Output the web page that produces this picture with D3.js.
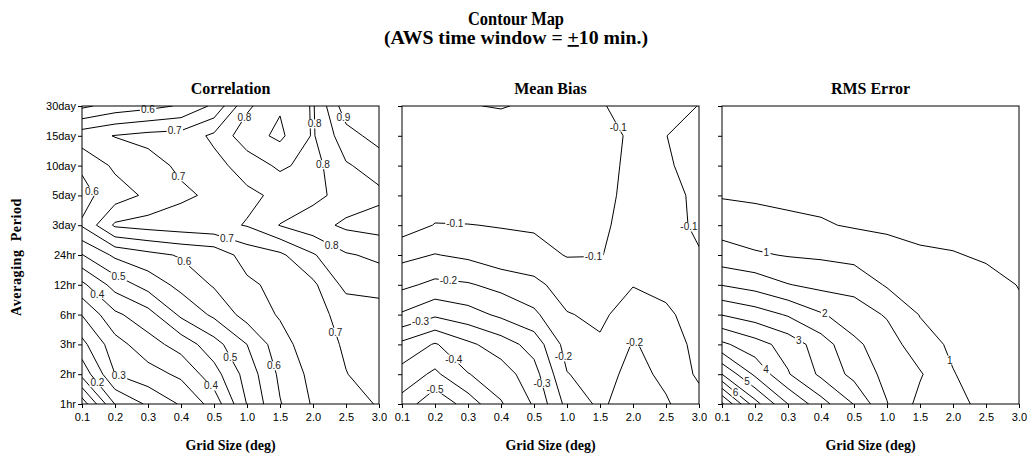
<!DOCTYPE html>
<html>
<head>
<meta charset="utf-8">
<script src="https://cdn.jsdelivr.net/npm/d3@7"></script>
<style>
  body { margin: 0; background: #fff; }
  svg text { font-family: "Liberation Sans", Arial, sans-serif; }
  .serif { font-family: "Liberation Serif", "Times New Roman", serif; font-weight: bold; }
</style>
</head>
<body>
<svg id="chart" width="1030" height="457"></svg>
<script>
// Grid sizes (x) and averaging periods (y, bottom to top)
const gridSizes = ["0.1", "0.2", "0.3", "0.4", "0.5", "1.0", "1.5", "2.0", "2.5", "3.0"];
const periods = ["1hr", "2hr", "3hr", "6hr", "12hr", "24hr", "3day", "5day", "10day", "15day", "30day"];

// Correlation, one row per averaging period (1hr first), one value per grid size
const correlation = [
  [0.02, 0.202, 0.258, 0.305, 0.37, 0.502, 0.597, 0.655, 0.685, 0.703],
  [0.165, 0.30, 0.33, 0.36, 0.43, 0.52, 0.61, 0.665, 0.699, 0.715],
  [0.235, 0.33, 0.38, 0.42, 0.48, 0.55, 0.63, 0.68, 0.705, 0.72],
  [0.302, 0.39, 0.43, 0.51, 0.56, 0.62, 0.655, 0.685, 0.715, 0.722],
  [0.388, 0.47, 0.52, 0.565, 0.605, 0.64, 0.665, 0.69, 0.765, 0.773],
  [0.498, 0.56, 0.585, 0.605, 0.618, 0.671, 0.69, 0.745, 0.795, 0.81],
  [0.605, 0.708, 0.72, 0.728, 0.735, 0.753, 0.802, 0.83, 0.86, 0.87],
  [0.585, 0.625, 0.66, 0.69, 0.71, 0.74, 0.76, 0.785, 0.82, 0.84],
  [0.607, 0.66, 0.68, 0.71, 0.735, 0.77, 0.81, 0.78, 0.845, 0.87],
  [0.68, 0.702, 0.715, 0.72, 0.76, 0.83, 0.86, 0.795, 0.88, 0.92],
  [0.54, 0.57, 0.585, 0.605, 0.66, 0.79, 0.845, 0.795, 0.93, 0.945]
];

// Mean bias
const meanBias = [
  [-0.468, -0.54, -0.478, -0.404, -0.345, -0.235, -0.19, -0.23, -0.205, -0.17],
  [-0.42, -0.46, -0.402, -0.375, -0.32, -0.202, -0.18, -0.215, -0.19, -0.141],
  [-0.362, -0.4045, -0.36, -0.325, -0.28, -0.18, -0.157, -0.203, -0.185, -0.13],
  [-0.256, -0.291, -0.27, -0.24, -0.21, -0.153, -0.14, -0.175, -0.16, -0.125],
  [-0.1885, -0.212, -0.205, -0.185, -0.1645, -0.125, -0.12, -0.148, -0.135, -0.115],
  [-0.136, -0.152, -0.14, -0.118, -0.114, -0.098, -0.099, -0.109, -0.115, -0.102],
  [-0.076, -0.102, -0.101, -0.098, -0.095, -0.085, -0.095, -0.11, -0.11, -0.095],
  [-0.08, -0.075, -0.075, -0.085, -0.08, -0.08, -0.085, -0.115, -0.112, -0.092],
  [-0.085, -0.08, -0.08, -0.085, -0.08, -0.08, -0.085, -0.11, -0.105, -0.085],
  [-0.085, -0.085, -0.09, -0.095, -0.085, -0.085, -0.093, -0.103, -0.1005, -0.085],
  [-0.08, -0.07, -0.054, -0.045, -0.0635, -0.075, -0.095, -0.12, -0.115, -0.099]
];

// RMS error
const rmsError = [
  [7.6, 5.7, 4.5, 3.7, 2.98, 2.02, 1.35, 1.11, 0.9, 0.8],
  [5.5, 4.4, 3.54, 2.9, 2.35, 1.85, 1.55, 1.02, 0.8, 0.65],
  [4.1, 3.7, 3.3, 2.75, 2.1, 1.75, 1.2, 0.92, 0.72, 0.6],
  [2.98, 2.75, 2.45, 2.05, 1.75, 1.45, 0.98, 0.85, 0.68, 0.55],
  [1.98, 1.8, 1.52, 1.37, 1.33, 0.95, 0.8, 0.72, 0.6, 0.49],
  [1.18, 1.06, 0.97, 0.93, 0.84, 0.68, 0.55, 0.52, 0.46, 0.42],
  [0.82, 0.69, 0.59, 0.54, 0.46, 0.42, 0.4, 0.38, 0.36, 0.34],
  [0.46, 0.43, 0.41, 0.39, 0.37, 0.35, 0.33, 0.31, 0.3, 0.29],
  [0.4, 0.38, 0.36, 0.34, 0.32, 0.3, 0.29, 0.28, 0.27, 0.26],
  [0.36, 0.34, 0.32, 0.3, 0.29, 0.28, 0.27, 0.26, 0.25, 0.24],
  [0.33, 0.31, 0.3, 0.28, 0.27, 0.26, 0.25, 0.24, 0.23, 0.22]
];

// Contour levels
const corrLevels = d3.range(1, 20).map(k => +(k * 0.05).toFixed(2));
const biasLevels = d3.range(-12, 0).map(k => +(k * 0.05).toFixed(2));
const rmsLevels = d3.range(1, 17).map(k => k * 0.5);

// Labelled contours: [level, grid-size index, period index] near which the label sits
const corrLabels = [
  [0.6, 2.0, 9.85], [0.7, 2.8, 9.3], [0.8, 5.0, 9.56], [0.8, 7.1, 9.4], [0.9, 7.8, 9.56],
  [0.6, 0.76, 7.45], [0.7, 3.2, 7.85], [0.8, 7.2, 8.0], [0.7, 4.4, 5.6], [0.8, 7.6, 5.4],
  [0.6, 3.2, 4.9], [0.5, 1.1, 4.26], [0.4, 0.45, 3.66], [0.7, 7.6, 2.38], [0.6, 6.0, 1.34],
  [0.5, 4.6, 1.64], [0.4, 4.0, 0.7], [0.3, 1.2, 1.2], [0.2, 0.45, 0.7]
];
const biasLabels = [
  [-0.1, 6.5, 9.26], [-0.1, 1.6, 6.04], [-0.1, 8.8, 6.0], [-0.1, 5.8, 4.87],
  [-0.2, 1.4, 4.1], [-0.3, 0.55, 2.82], [-0.4, 1.55, 1.48], [-0.5, 1.0, 0.57],
  [-0.2, 4.9, 1.58], [-0.3, 4.06, 0.64], [-0.2, 7.1, 2.18]
];
const rmsLabels = [
  [1, 1.36, 5.17], [2, 3.03, 2.79], [3, 2.06, 1.64], [4, 1.24, 1.07],
  [5, 0.76, 0.74], [6, 0.42, 0.4], [1, 6.76, 1.41]
];

const panels = [
  { title: "Correlation", values: correlation, levels: corrLevels, labels: corrLabels, fmt: v => v.toFixed(1), left: 82 },
  { title: "Mean Bias", values: meanBias, levels: biasLevels, labels: biasLabels, fmt: v => v.toFixed(1), left: 402 },
  { title: "RMS Error", values: rmsError, levels: rmsLevels, labels: rmsLabels, fmt: v => String(Math.round(v)), left: 722 }
];

const svg = d3.select("#chart");
const plotW = 297, plotTop = 106, plotBottom = 404;
const nx = gridSizes.length, ny = periods.length;

// Main title (two lines)
svg.append("text").attr("class", "serif").attr("text-anchor", "middle").attr("font-size", 18)
  .attr("x", 516).attr("y", 25).attr("textLength", 96).attr("lengthAdjust", "spacingAndGlyphs")
  .text("Contour Map");
const line2 = svg.append("text").attr("class", "serif").attr("text-anchor", "middle").attr("font-size", 18)
  .attr("x", 516).attr("y", 44).attr("textLength", 264).attr("lengthAdjust", "spacingAndGlyphs");
line2.append("tspan").text("(AWS time window = ");
line2.append("tspan").style("text-decoration", "underline").text("+");
line2.append("tspan").text("10 min.)");

// Y axis title
svg.append("text").attr("class", "serif").attr("text-anchor", "middle").attr("font-size", 14)
  .attr("letter-spacing", 0.6).attr("word-spacing", 4)
  .attr("transform", "translate(21,257) rotate(-90)").text("Averaging Period");

panels.forEach((p, pi) => {
  const x0 = p.left, x1 = p.left + plotW;
  const xPos = d3.scalePoint().domain(gridSizes).range([x0, x1]);
  const yPos = d3.scalePoint().domain(periods).range([plotBottom, plotTop]);
  // contour coordinates: value (i, j) sits at (i + 0.5, j + 0.5)
  const xc = d3.scaleLinear().domain([0.5, nx - 0.5]).range([x0, x1]);
  const yc = d3.scaleLinear().domain([0.5, ny - 0.5]).range([plotBottom, plotTop]);

  const g = svg.append("g");
  const clipId = "clip" + pi;
  svg.append("clipPath").attr("id", clipId).append("rect")
    .attr("x", x0).attr("y", plotTop).attr("width", plotW).attr("height", plotBottom - plotTop);

  const flat = [];
  p.values.forEach(row => row.forEach(v => flat.push(v)));
  const contours = d3.contours().size([nx, ny]).thresholds(p.levels)(flat);

  const path = d3.geoPath(d3.geoTransform({
    point(x, y) { this.stream.point(xc(x), yc(y)); }
  }));

  g.append("g").attr("clip-path", `url(#${clipId})`)
    .selectAll("path").data(contours).join("path")
    .attr("d", path).attr("fill", "none").attr("stroke", "#000").attr("stroke-width", 1)
    .attr("stroke-linejoin", "round");

  // Contour labels, snapped onto their contour line
  const labelG = g.append("g");
  p.labels.forEach(([level, gi, gj]) => {
    const c = contours.find(d => Math.abs(d.value - level) < 1e-9);
    if (!c) return;
    const px = xc(gi + 0.5), py = yc(gj + 0.5);
    let best = null, bd = Infinity;
    c.coordinates.forEach(poly => poly.forEach(ring => {
      for (let k = 0; k < ring.length - 1; k++) {
        const ax = xc(ring[k][0]), ay = yc(ring[k][1]);
        const bx = xc(ring[k + 1][0]), by = yc(ring[k + 1][1]);
        const dx = bx - ax, dy = by - ay, L = dx * dx + dy * dy;
        let t = L ? ((px - ax) * dx + (py - ay) * dy) / L : 0;
        t = Math.max(0, Math.min(1, t));
        const qx = ax + t * dx, qy = ay + t * dy;
        if (qx < x0 + 2 || qx > x1 - 2 || qy < plotTop + 2 || qy > plotBottom - 2) continue;
        const d = (qx - px) ** 2 + (qy - py) ** 2;
        if (d < bd) { bd = d; best = [qx, qy]; }
      }
    }));
    if (!best) return;
    const t = labelG.append("text").attr("x", best[0]).attr("y", best[1])
      .attr("text-anchor", "middle").attr("dy", "0.35em").attr("font-size", 10)
      .attr("fill", "#222").text(p.fmt(level));
    const bb = t.node().getBBox();
    labelG.insert("rect", () => t.node())
      .attr("x", bb.x - 1).attr("y", bb.y + 1).attr("width", bb.width + 2).attr("height", bb.height - 2)
      .attr("fill", "#fff");
  });

  // Frame
  g.append("rect").attr("x", x0).attr("y", plotTop).attr("width", plotW).attr("height", plotBottom - plotTop)
    .attr("fill", "none").attr("stroke", "#000").attr("stroke-width", 1);

  // Axes
  const yAxis = d3.axisLeft(yPos).tickSize(4).tickPadding(2);
  if (pi > 0) yAxis.tickFormat("");
  const ya = g.append("g").attr("transform", `translate(${x0},0)`).call(yAxis);
  ya.select(".domain").remove();
  ya.selectAll("text").attr("font-size", 11).attr("font-family", "Liberation Sans, Arial, sans-serif").attr("fill", "#000");

  const xa = g.append("g").attr("transform", `translate(0,${plotBottom})`)
    .call(d3.axisBottom(xPos).tickSize(4).tickPadding(5));
  xa.select(".domain").remove();
  xa.selectAll("text").attr("font-size", 11).attr("font-family", "Liberation Sans, Arial, sans-serif").attr("fill", "#000");

  // Panel title and x axis title
  svg.append("text").attr("class", "serif").attr("text-anchor", "middle").attr("font-size", 16)
    .attr("x", (x0 + x1) / 2).attr("y", 94).text(p.title);
  svg.append("text").attr("class", "serif").attr("text-anchor", "middle").attr("font-size", 14)
    .attr("x", (x0 + x1) / 2).attr("y", 450).text("Grid Size (deg)");
});
</script>
</body>
</html>
